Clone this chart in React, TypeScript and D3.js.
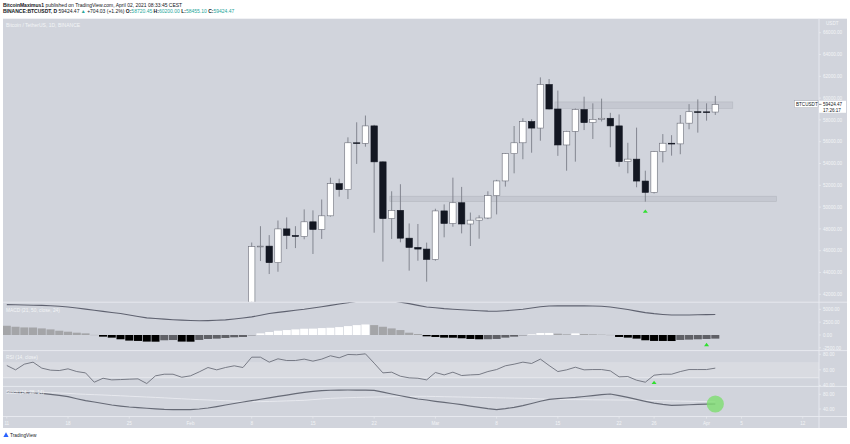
import React from "react";
import * as d3 from "d3";

// ---------- data ----------
const seriesStart = "2021-01-11";
const seriesEnd = "2021-04-02";
const candleStart = "2021-02-08";

// daily candles, Feb 8 .. Apr 2 (earlier days sit below the visible price range)
const openP = [
  38886, 46374, 46420, 44900, 48000, 47400, 47300, 48650, 47950, 49200, 52150, 51600, 55900, 55850, 57450, 54150, 48950, 49700, 47150, 46300, 46150,
  45200, 49650, 48500, 50400, 48450, 48800, 49000, 51050, 52400, 54900, 55900, 57850, 57250, 61250, 59000, 55700, 56950, 58950, 57750, 58050, 58150,
  57450, 54170, 54400, 52390, 51350, 55090, 55860, 55800, 57700, 58750, 58740, 58720.45,
];
const highP = [
  46750, 48250, 47430, 48770, 49060, 48250, 49790, 49700, 50700, 52700, 52600, 56400, 57780, 58400, 57550, 54200, 51450, 52100, 48500, 48450, 46740,
  49850, 50250, 52700, 51850, 49500, 49250, 51450, 52500, 54950, 57440, 58150, 58060, 61900, 61750, 60690, 57000, 59050, 60130, 59520, 59950, 58650,
  58500, 55900, 57290, 53340, 55150, 56700, 56600, 58450, 59450, 59880, 59520, 60200,
];
const lowP = [
  37988, 45050, 43860, 44070, 46150, 46240, 47050, 45700, 47080, 49130, 50960, 50740, 53960, 55540, 47650, 45000, 47080, 46770, 44170, 45080, 43160,
  45080, 47230, 48200, 47590, 46430, 47100, 48900, 49330, 51880, 53100, 54390, 54990, 56090, 58950, 54700, 53340, 54170, 57070, 56250, 57850, 55490,
  53710, 53100, 51820, 50500, 51250, 54100, 54720, 54850, 57140, 56830, 57930, 58455.1,
];
const closeP = [
  46374, 46420, 44900, 48000, 47400, 47300, 48650, 47950, 49200, 52150, 51600, 55900, 55850, 57450, 54150, 48950, 49700, 47150, 46300, 46150, 45200,
  49650, 48500, 50400, 48450, 48800, 49000, 51050, 52400, 54900, 55900, 57850, 57250, 61250, 59000, 55700, 56950, 58950, 57750, 58050, 58150, 57450,
  54170, 54400, 52390, 51350, 55090, 55860, 55800, 57700, 58750, 58740, 58720, 59424.47,
];

// MACD (daily, Jan 11 .. Apr 2)
const macdLine = [
  5900, 5880, 5850, 5800, 5770, 5700, 5600, 5450, 5250, 5030, 4810, 4600, 4380, 4170, 3880, 3600, 3330, 3200, 3080, 2980,
  2900, 2820, 2760, 2800, 2870, 2950, 3120, 3310, 3520, 3850, 4170, 4400, 4600, 4800, 5000, 5250, 5500, 5770, 6030, 6290,
  6550, 6800, 6900, 6850, 6650, 6400, 6100, 5770, 5450, 5300, 5130, 5020, 4920, 4810, 4720, 4650, 4620, 4720, 4850, 5000,
  5250, 5500, 5640, 5660, 5670, 5670, 5660, 5640, 5580, 5450, 5200, 4950, 4650, 4360, 4150, 4000, 3880, 3880, 3900, 3940,
  3970, 3980,
];
const macdHist = [
  1795, 1603, 1474, 1460, 1282, 1090, 833, 641, 449, 321, 20, -321, -513, -833, -1090, -1154, -1282, -1300, -1026, -980,
  -1282, -1300, -962, -769, -705, -577, -449, -385, -64, 321, 577, 833, 962, 1090, 1218, 1240, 1346, 1410, 1538, 1731,
  1923, 2051, 1923, 1603, 1282, 962, 449, 192, -256, -385, -513, -530, -641, -769, -833, -820, -769, -513, -321, -64,
  128, 385, 400, 256, 128, 321, 192, 128, 64, 20, -385, -513, -705, -1026, -1154, -1160, -1170, -962, -897, -833,
  -769, -705,
];

// RSI (14)
const rsi = [
  65.6, 60.0, 67.3, 69.9, 62.2, 59.6, 59.1, 61.3, 57.8, 56.1, 44.1, 49.2, 47.1, 47.5, 48.0, 48.4, 42.4, 52.3, 54.4, 54.4,
  50.5, 52.3, 57.4, 63.0, 60.0, 63.0, 65.2, 63.0, 76.3, 76.3, 69.9, 74.2, 72.0, 72.0, 73.8, 71.2, 73.8, 78.1, 75.5, 79.8,
  79.4, 80.6, 68.6, 56.1, 57.0, 51.8, 49.7, 49.2, 47.1, 56.6, 53.5, 57.0, 52.7, 53.5, 54.0, 57.8, 60.4, 65.2, 67.3, 69.9,
  68.2, 73.8, 65.6, 57.8, 60.0, 63.4, 60.0, 60.4, 60.4, 58.7, 51.0, 51.4, 46.7, 44.1, 53.1, 54.4, 54.4, 57.8, 60.4, 60.4,
  60.4, 62.2,
];

// Stochastic %K and %D
const stochK = [
  86.3, 85.5, 84.5, 83.5, 82.6, 80, 77, 73.5, 68, 63, 59, 55, 50.8, 48, 45.5, 43.6, 42, 40.5, 39, 38.5,
  38.2, 38.1, 40, 42.7, 46.5, 50.8, 55, 59, 62.6, 66.5, 70.5, 74.5, 78, 81.7, 85, 87.8, 89.9, 91, 91.5, 91.7,
  91.5, 91.3, 90.8, 86, 80.8, 76, 71.5, 67.2, 64.5, 61, 58, 55, 51.7, 48, 44.5, 41, 38.1, 41, 44.5, 49,
  55, 61, 66, 68, 70, 71.7, 74, 76.5, 79, 80.8, 76.5, 71.7, 66, 60.8, 56, 52.5, 49.9, 50.5, 51.5, 52.5,
  53, 53.6,
];
const stochD = [
  88, 87.5, 87, 86, 85.4, 84.5, 83.5, 82.5, 81, 80, 79, 78.1, 77, 76, 74.8, 73.7, 72.6, 71.5, 70.3, 69,
  67.8, 66.6, 65.4, 64.5, 63.5, 62.5, 61.5, 60.5, 59.9, 60, 60.5, 61.2, 62, 62.8, 63.6, 65.5, 67.3, 69, 70, 70.8,
  71.5, 72, 72.5, 73, 73.5, 74, 74.3, 74.5, 74.5, 74, 73.5, 73, 72.5, 72, 71.5, 71, 70.5, 70, 69.5, 69,
  68.5, 67.5, 66.5, 66, 65.8, 65.5, 65.3, 65, 64.8, 64.6, 64.4, 64.2, 64, 63.6, 63, 62.5, 62, 61.5, 61, 60.6,
  60.2, 59.9,
];

// horizontal zones drawn on the price pane
const zoneFrom = ["2021-02-23T19:00:00Z", "2021-03-14T16:00:00Z"];
const zoneTo = ["2021-04-09T00:00:00Z", "2021-04-04T00:00:00Z"];
const zoneLow = [50500, 59050];
const zoneHigh = [51000, 59650];

// signal markers
const priceSignalDay = "2021-03-25";
const rsiSignalDay = "2021-03-26";
const macdSignalDay = "2021-04-01";

// axis labels
const priceTicks = [66000, 64000, 62000, 60000, 58000, 56000, 54000, 52000, 50000, 48000, 46000, 44000, 42000];
const macdTicks = [5000, 2500, 0, -2500];
const rsiTicks = [80, 60, 40];
const stochTicks = [80, 40];
const timeTickDates = [
  "2021-01-11", "2021-01-18", "2021-01-25", "2021-02-01", "2021-02-08", "2021-02-15", "2021-02-22", "2021-03-01",
  "2021-03-08", "2021-03-15", "2021-03-22", "2021-03-26", "2021-04-01", "2021-04-05", "2021-04-12",
];
const timeTickLabels = ["11", "18", "25", "Feb", "8", "15", "22", "Mar", "8", "15", "22", "26", "Apr", "5", "12"];

// ---------- layout / style ----------
const W = 850;
const H = 444;
const FONT = "'Liberation Sans', Arial, sans-serif";
const BG = "#d1d4dc";
const SEP = "#e9ebf0";
const AXIS_TXT = "#f3f4f7";
const TEAL = "#26a69a";
const LEFT = 3;
const RIGHT = 847;
const AXIS_X = 819;
const MAIN = { top: 18.7, bottom: 301.8 };
const MACD = { top: 302.6, bottom: 350.2 };
const RSI = { top: 351, bottom: 386 };
const STOCH = { top: 386.8, bottom: 416.2 };
const TIME = { top: 416.8, bottom: 428 };

const parse = (s: string) => new Date(s.length === 10 ? s + "T00:00:00Z" : s);

export default function App() {
  const days = d3.utcDay.range(parse(seriesStart), d3.utcDay.offset(parse(seriesEnd), 1));
  const x = d3.scaleUtc().domain([days[0], days[days.length - 1]]).range([6.8, 715.3]);
  const dayW = x(days[1]) - x(days[0]);

  const firstCandle = days.findIndex((d) => +d === +parse(candleStart));
  const candleDays = days.slice(firstCandle);

  const yP = d3.scaleLinear().domain([42000, 66000]).range([294.3, 32.7]);
  const yM = d3.scaleLinear().domain([0, 5000]).range([335, 309.3]);
  const yR = d3.scaleLinear().domain([40, 80]).range([385.4, 354.3]);
  const yS = d3.scaleLinear().domain([40, 80]).range([409, 394.3]);

  const idx = (s: string) => days.findIndex((d) => +d === +parse(s));

  const lineOf = (vals: number[], y: d3.ScaleLinear<number, number>) =>
    d3.line<number>().x((_, i) => x(days[i])).y((v) => y(v))(vals) || "";

  const histColor = (i: number) => {
    const h = macdHist[i];
    const prev = i > 0 ? macdHist[i - 1] : Infinity;
    if (h >= 0) return h > prev ? "#ffffff" : "#a4a5a8";
    return h < prev ? "#000000" : "#5f6066";
  };

  const tri = (cx: number, cy: number, w = 5, h = 3.4) =>
    `M${cx},${cy - h / 2}L${cx + w / 2},${cy + h / 2}L${cx - w / 2},${cy + h / 2}Z`;

  const bodyW = 6.4;
  const pSig = idx(priceSignalDay) - firstCandle;
  const rSig = idx(rsiSignalDay);
  const mSig = idx(macdSignalDay);
  const last = days.length - 1;
  const lastClose = closeP[closeP.length - 1];

  const txt = { fontFamily: FONT } as React.CSSProperties;

  return (
    <svg width={W} height={H} viewBox={`0 0 ${W} ${H}`} style={{ position: "absolute", left: 0, top: 0, display: "block", background: "#fff" }}>
      <defs>
        <clipPath id="clipMain"><rect x={LEFT} y={MAIN.top} width={AXIS_X - LEFT} height={MAIN.bottom - MAIN.top} /></clipPath>
        <clipPath id="clipMacd"><rect x={LEFT} y={MACD.top} width={AXIS_X - LEFT} height={MACD.bottom - MACD.top} /></clipPath>
        <clipPath id="clipRsi"><rect x={LEFT} y={RSI.top} width={AXIS_X - LEFT} height={RSI.bottom - RSI.top} /></clipPath>
        <clipPath id="clipStoch"><rect x={LEFT} y={STOCH.top} width={AXIS_X - LEFT} height={STOCH.bottom - STOCH.top} /></clipPath>
      </defs>

      {/* header */}
      <text x={3} y={6.6} fontSize={5} fill="#131722" style={txt}>
        <tspan fontWeight="bold">BitcoinMaximus1</tspan>
        <tspan> published on TradingView.com, April 02, 2021 08:33:45 CEST</tspan>
      </text>
      <text x={3} y={13.4} fontSize={5} fill="#131722" style={txt}>
        <tspan fontWeight="bold">BINANCE:BTCUSDT, D</tspan>
        <tspan> 59424.47 </tspan>
        <tspan fill={TEAL}>▲</tspan>
        <tspan> +704.03 (+1.2%) </tspan>
        <tspan fontWeight="bold">O:</tspan><tspan fill={TEAL}>58720.45 </tspan>
        <tspan fontWeight="bold">H:</tspan><tspan fill={TEAL}>60200.00 </tspan>
        <tspan fontWeight="bold">L:</tspan><tspan fill={TEAL}>58455.10 </tspan>
        <tspan fontWeight="bold">C:</tspan><tspan fill={TEAL}>59424.47</tspan>
      </text>

      {/* chart background */}
      <rect x={LEFT} y={MAIN.top} width={RIGHT - LEFT} height={TIME.bottom - MAIN.top} fill={BG} />

      {/* RSI band */}
      <rect x={LEFT} y={yR(70)} width={AXIS_X - LEFT} height={yR(50) - yR(70)} fill="#d9dbe1" />
      <line x1={LEFT} x2={AXIS_X} y1={yR(50)} y2={yR(50)} stroke="#e4e5ea" strokeWidth={1.4} />

      {/* pane separators */}
      {[MACD.top - 0.4, RSI.top - 0.4, STOCH.top - 0.4, TIME.top - 0.3].map((y, i) => (
        <line key={i} x1={LEFT} x2={RIGHT} y1={y} y2={y} stroke={SEP} strokeWidth={0.9} />
      ))}
      <line x1={AXIS_X} x2={AXIS_X} y1={MAIN.top} y2={TIME.bottom} stroke={SEP} strokeWidth={0.9} />

      {/* price pane */}
      <text x={6} y={26.8} fontSize={5} fill={AXIS_TXT} style={txt}>Bitcoin / TetherUS, 1D, BINANCE</text>
      <g clipPath="url(#clipMain)">
        {zoneLow.map((lo, i) => (
          <rect key={i} x={x(parse(zoneFrom[i]))} y={yP(zoneHigh[i])} width={x(parse(zoneTo[i])) - x(parse(zoneFrom[i]))}
            height={yP(lo) - yP(zoneHigh[i])} fill="rgba(150,154,166,0.2)" stroke="rgba(150,154,166,0.4)" strokeWidth={0.6} />
        ))}
        {candleDays.map((d, i) => {
          const cx = x(d);
          const up = closeP[i] >= openP[i];
          const top = yP(Math.max(openP[i], closeP[i]));
          const bot = yP(Math.min(openP[i], closeP[i]));
          return (
            <g key={i}>
              <line x1={cx} x2={cx} y1={yP(highP[i])} y2={yP(lowP[i])} stroke="#7b7e88" strokeWidth={0.9} />
              <rect x={cx - bodyW / 2} y={top} width={bodyW} height={Math.max(bot - top, 0.8)}
                fill={up ? "#ffffff" : "#131722"} stroke={up ? "#6a6d78" : "#131722"} strokeWidth={0.6} />
            </g>
          );
        })}
        <path d={tri(x(candleDays[pSig]), yP(lowP[pSig]) + 9.5)} fill="#2fe02f" />
      </g>

      {/* last price labels */}
      <rect x={794.5} y={yP(lastClose) - 3.6} width={23.5} height={7} fill="#fff" stroke="#9a9da6" strokeWidth={0.4} />
      <text x={796} y={yP(lastClose) + 1.6} fontSize={4.6} fill="#131722" style={txt}>BTCUSDT</text>
      <rect x={AXIS_X} y={yP(lastClose) - 3.6} width={27} height={12} fill="#fff" />
      <line x1={AXIS_X} x2={AXIS_X + 2.5} y1={yP(lastClose)} y2={yP(lastClose)} stroke="#131722" strokeWidth={0.5} />
      <text x={AXIS_X + 4} y={yP(lastClose) + 1.6} fontSize={4.6} fill="#131722" style={txt}>59424.47</text>
      <text x={AXIS_X + 4} y={yP(lastClose) + 7.4} fontSize={4.6} fill="#131722" style={txt}>17:26:17</text>

      {/* price axis */}
      <text x={826} y={24.5} fontSize={4.6} fill={AXIS_TXT} style={txt}>USDT</text>
      {priceTicks.map((t) => (
        <g key={t}>
          <line x1={AXIS_X} x2={AXIS_X + 2} y1={yP(t)} y2={yP(t)} stroke={AXIS_TXT} strokeWidth={0.5} />
          {Math.abs(yP(t) - yP(lastClose)) > 6 && (
            <text x={AXIS_X + 4} y={yP(t) + 1.7} fontSize={4.6} fill={AXIS_TXT} style={txt}>{t.toFixed(2)}</text>
          )}
        </g>
      ))}

      {/* MACD pane */}
      <g clipPath="url(#clipMacd)">
        {macdHist.map((h, i) => (
          <rect key={i} x={x(days[i]) - dayW / 2 + 0.35} width={dayW - 0.7}
            y={Math.min(yM(h), yM(0))} height={Math.max(Math.abs(yM(h) - yM(0)), 0.3)} fill={histColor(i)} />
        ))}
        <path d={lineOf(macdLine, yM)} fill="none" stroke="#5f6270" strokeWidth={1.1} />
        <path d={tri(x(days[mSig]), yM(macdHist[mSig]) + 5.5)} fill="#2fe02f" />
      </g>
      <text x={6} y={311.6} fontSize={4.8} fill={AXIS_TXT} style={txt}>MACD (21, 50, close, 24)</text>
      {macdTicks.map((t) => (
        <g key={t}>
          <line x1={AXIS_X} x2={AXIS_X + 2} y1={yM(t)} y2={yM(t)} stroke={AXIS_TXT} strokeWidth={0.5} />
          <text x={AXIS_X + 4} y={yM(t) + 1.7} fontSize={4.6} fill={AXIS_TXT} style={txt}>{t.toFixed(2)}</text>
        </g>
      ))}

      {/* RSI pane */}
      <g clipPath="url(#clipRsi)">
        <path d={lineOf(rsi, yR)} fill="none" stroke="#6c6f7a" strokeWidth={0.9} />
        <path d={tri(x(days[rSig]), yR(rsi[rSig]) + 7.2)} fill="#2fe02f" />
      </g>
      <text x={6} y={358.6} fontSize={4.8} fill={AXIS_TXT} style={txt}>RSI (14, close)</text>
      {rsiTicks.map((t) => (
        <g key={t}>
          <line x1={AXIS_X} x2={AXIS_X + 2} y1={yR(t)} y2={yR(t)} stroke={AXIS_TXT} strokeWidth={0.5} />
          <text x={AXIS_X + 4} y={yR(t) + 1.7} fontSize={4.6} fill={AXIS_TXT} style={txt}>{t.toFixed(2)}</text>
        </g>
      ))}

      {/* Stochastic pane */}
      <g clipPath="url(#clipStoch)">
        <path d={lineOf(stochD, yS)} fill="none" stroke="#eceef2" strokeWidth={0.8} />
        <path d={lineOf(stochK, yS)} fill="none" stroke="#666a76" strokeWidth={1.2} />
        <circle cx={x(days[last])} cy={yS(stochK[last])} r={8.6} fill="rgba(124,222,110,0.78)" />
      </g>
      <text x={6} y={394} fontSize={4.8} fill={AXIS_TXT} style={txt}>Stoch (14, 28, 14)</text>
      {stochTicks.map((t) => (
        <g key={t}>
          <line x1={AXIS_X} x2={AXIS_X + 2} y1={yS(t)} y2={yS(t)} stroke={AXIS_TXT} strokeWidth={0.5} />
          <text x={AXIS_X + 4} y={yS(t) + 1.7} fontSize={4.6} fill={AXIS_TXT} style={txt}>{t.toFixed(2)}</text>
        </g>
      ))}

      {/* time axis */}
      {timeTickDates.map((s, i) => (
        <g key={s}>
          <line x1={x(parse(s))} x2={x(parse(s))} y1={TIME.top} y2={TIME.top + 1.8} stroke={AXIS_TXT} strokeWidth={0.5} />
          <text x={x(parse(s))} y={425} fontSize={4.6} textAnchor="middle" fill={AXIS_TXT} style={txt}>{timeTickLabels[i]}</text>
        </g>
      ))}

      {/* footer logo */}
      <path d="M3.4,437 L6,432.2 L8.6,437 Z" fill="#2962ff" />
      <text x={10} y={436.8} fontSize={4.8} fill="#131722" style={txt}>TradingView</text>
    </svg>
  );
}
